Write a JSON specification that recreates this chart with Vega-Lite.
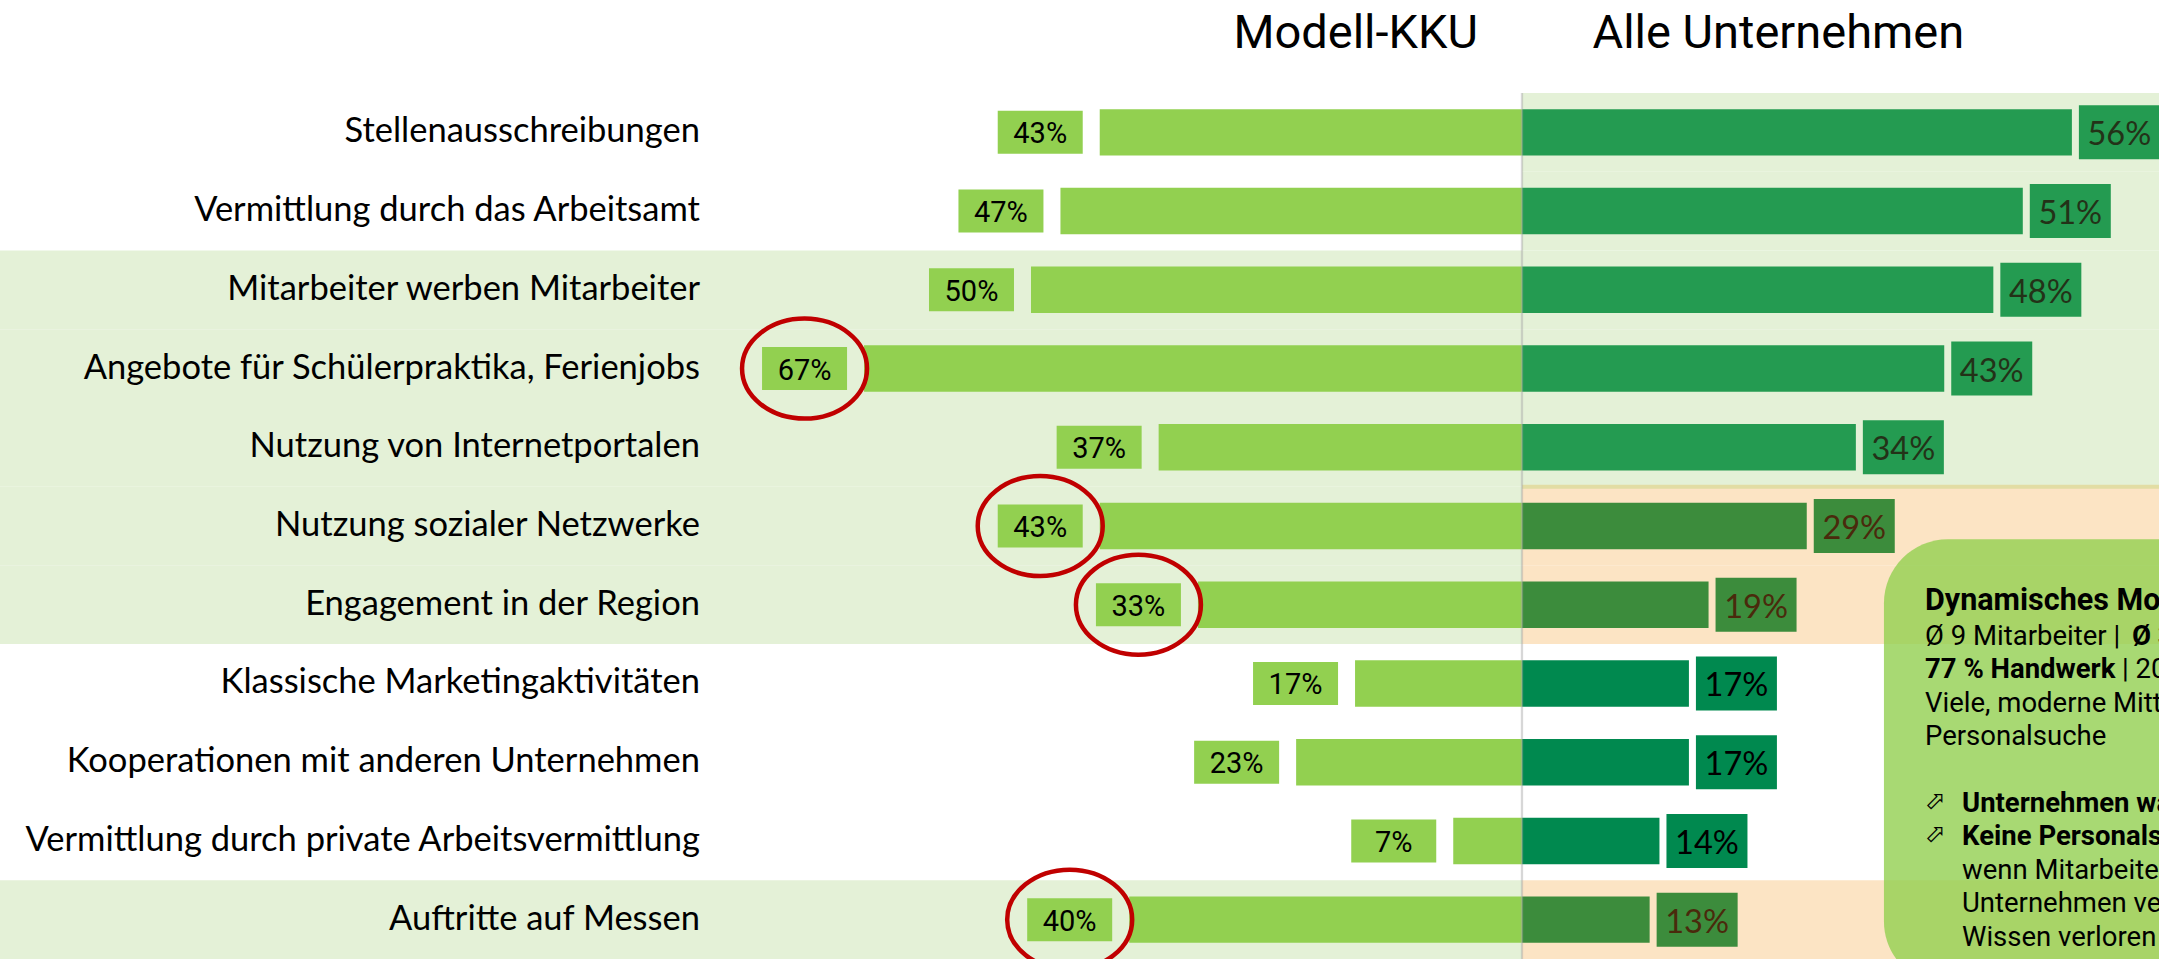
{
  "$schema": "https://vega.github.io/schema/vega-lite/v6.json",
  "width": 2159,
  "height": 866,
  "autosize": {"type": "none"},
  "padding": {"left": 0, "right": 0, "top": 93, "bottom": 0},
  "background": "#ffffff",
  "config": {"view": {"stroke": null}},
  "data": {"values": [
    {"Kategorie": "Stellenausschreibungen", "KKU": 0.43, "Alle": 0.56, "Hintergrund_KKU": "normal", "Bereich": "häufig", "Kreis": "nein"},
    {"Kategorie": "Vermittlung durch das Arbeitsamt", "KKU": 0.47, "Alle": 0.51, "Hintergrund_KKU": "normal", "Bereich": "häufig", "Kreis": "nein"},
    {"Kategorie": "Mitarbeiter werben Mitarbeiter", "KKU": 0.50, "Alle": 0.48, "Hintergrund_KKU": "hervorgehoben", "Bereich": "häufig", "Kreis": "nein"},
    {"Kategorie": "Angebote für Schülerpraktika, Ferienjobs", "KKU": 0.67, "Alle": 0.43, "Hintergrund_KKU": "hervorgehoben", "Bereich": "häufig", "Kreis": "ja"},
    {"Kategorie": "Nutzung von Internetportalen", "KKU": 0.37, "Alle": 0.34, "Hintergrund_KKU": "hervorgehoben", "Bereich": "häufig", "Kreis": "nein"},
    {"Kategorie": "Nutzung sozialer Netzwerke", "KKU": 0.43, "Alle": 0.29, "Hintergrund_KKU": "hervorgehoben", "Bereich": "KKU stärker", "Kreis": "ja"},
    {"Kategorie": "Engagement in der Region", "KKU": 0.33, "Alle": 0.19, "Hintergrund_KKU": "hervorgehoben", "Bereich": "KKU stärker", "Kreis": "ja"},
    {"Kategorie": "Klassische Marketingaktivitäten", "KKU": 0.17, "Alle": 0.17, "Hintergrund_KKU": "normal", "Bereich": "selten", "Kreis": "nein"},
    {"Kategorie": "Kooperationen mit anderen Unternehmen", "KKU": 0.23, "Alle": 0.17, "Hintergrund_KKU": "normal", "Bereich": "selten", "Kreis": "nein"},
    {"Kategorie": "Vermittlung durch private Arbeitsvermittlung", "KKU": 0.07, "Alle": 0.14, "Hintergrund_KKU": "normal", "Bereich": "selten", "Kreis": "nein"},
    {"Kategorie": "Auftritte auf Messen", "KKU": 0.40, "Alle": 0.13, "Hintergrund_KKU": "hervorgehoben", "Bereich": "KKU stärker", "Kreis": "ja"}
  ]},
  "layer": [
    {
      "mark": {"type": "rect"},
      "encoding": {
        "y": {"field": "Kategorie", "type": "nominal", "scale": {"type": "band", "domain": ["Stellenausschreibungen", "Vermittlung durch das Arbeitsamt", "Mitarbeiter werben Mitarbeiter", "Angebote für Schülerpraktika, Ferienjobs", "Nutzung von Internetportalen", "Nutzung sozialer Netzwerke", "Engagement in der Region", "Klassische Marketingaktivitäten", "Kooperationen mit anderen Unternehmen", "Vermittlung durch private Arbeitsvermittlung", "Auftritte auf Messen"], "paddingInner": 0, "paddingOuter": 0}, "axis": null},
        "x": {"datum": 0, "type": "quantitative", "scale": {"domain": [-0.6487, 1.5499], "reverse": true, "nice": false, "zero": false}, "axis": null},
        "x2": {"datum": 1.5499},
        "color": {"field": "Hintergrund_KKU", "type": "nominal", "scale": {"domain": ["normal", "hervorgehoben"], "range": ["#ffffff", "#e4f1d7"]}, "legend": null}
      }
    },
    {
      "mark": {"type": "rect"},
      "encoding": {
        "y": {"field": "Kategorie", "type": "nominal", "axis": null},
        "x": {"datum": 0, "type": "quantitative", "scale": {"domain": [-1.5499, 0.6487], "nice": false, "zero": false}, "axis": null},
        "x2": {"datum": 0.6487},
        "color": {"field": "Bereich", "type": "nominal", "scale": {"domain": ["häufig", "KKU stärker", "selten"], "range": ["#e4f1d7", "#fce4c4", "#ffffff"]}, "legend": null}
      }
    },
    {
      "data": {"values": [{}]},
      "mark": {"type": "rule", "color": "#e2dda4", "strokeWidth": 4},
      "encoding": {
        "y": {"datum": "Nutzung sozialer Netzwerke", "type": "nominal", "bandPosition": 0, "axis": null},
        "x": {"datum": 0, "type": "quantitative", "scale": {"domain": [-1.5499, 0.6487], "nice": false, "zero": false}, "axis": null},
        "x2": {"datum": 0.6487}
      }
    },
    {
      "mark": {"type": "text", "font": "Lato", "fontSize": 34.5, "color": "#000000", "align": "right", "baseline": "middle"},
      "encoding": {
        "y": {"field": "Kategorie", "type": "nominal", "axis": null},
        "x": {"datum": 0.8371, "type": "quantitative", "scale": {"domain": [-0.6487, 1.5499], "reverse": true, "nice": false, "zero": false}, "axis": null},
        "text": {"field": "Kategorie", "type": "nominal"}
      }
    },
    {
      "mark": {"type": "bar", "height": {"band": 0.59}, "color": "#92d050"},
      "encoding": {
        "y": {"field": "Kategorie", "type": "nominal", "axis": null},
        "x": {"field": "KKU", "type": "quantitative", "scale": {"domain": [-0.6487, 1.5499], "reverse": true, "nice": false, "zero": false}, "axis": null},
        "x2": {"datum": 0}
      }
    },
    {
      "mark": {"type": "bar", "height": {"band": 0.59}},
      "encoding": {
        "y": {"field": "Kategorie", "type": "nominal", "axis": null},
        "x": {"field": "Alle", "type": "quantitative", "scale": {"domain": [-1.5499, 0.6487], "nice": false, "zero": false}, "axis": null},
        "x2": {"datum": 0},
        "color": {"field": "Bereich", "type": "nominal", "scale": {"domain": ["häufig", "KKU stärker", "selten"], "range": ["#249b51", "#3c8c3c", "#00894f"]}, "legend": null}
      }
    },
    {
      "data": {"values": [{}]},
      "mark": {"type": "rule", "color": "#a6a6a6", "opacity": 0.45, "strokeWidth": 2.3},
      "encoding": {
        "x": {"datum": 0, "type": "quantitative", "scale": {"domain": [-1.5499, 0.6487], "nice": false, "zero": false}, "axis": null}
      }
    },
    {
      "mark": {"type": "point", "shape": "M-2.04,-0.43H-0.34V0.43H-2.04Z", "size": 10000, "filled": true, "opacity": 1, "strokeWidth": 0, "color": "#92d050"},
      "encoding": {
        "y": {"field": "Kategorie", "type": "nominal", "axis": null},
        "x": {"field": "KKU", "type": "quantitative", "scale": {"domain": [-0.6487, 1.5499], "reverse": true, "nice": false, "zero": false}, "axis": null}
      }
    },
    {
      "mark": {"type": "point", "shape": "M0.14,-0.54H1.76V0.54H0.14Z", "size": 10000, "filled": true, "opacity": 1, "strokeWidth": 0},
      "encoding": {
        "y": {"field": "Kategorie", "type": "nominal", "axis": null},
        "x": {"field": "Alle", "type": "quantitative", "scale": {"domain": [-1.5499, 0.6487], "nice": false, "zero": false}, "axis": null},
        "color": {"field": "Bereich", "type": "nominal", "scale": {"domain": ["häufig", "KKU stärker", "selten"], "range": ["#249b51", "#3c8c3c", "#00894f"]}, "legend": null}
      }
    },
    {
      "mark": {"type": "text", "font": "Roboto", "fontSize": 29, "color": "#000000", "align": "center", "baseline": "middle", "dx": -59.5, "dy": 2},
      "encoding": {
        "y": {"field": "Kategorie", "type": "nominal", "axis": null},
        "x": {"field": "KKU", "type": "quantitative", "scale": {"domain": [-0.6487, 1.5499], "reverse": true, "nice": false, "zero": false}, "axis": null},
        "text": {"field": "KKU", "type": "quantitative", "format": ".0%"}
      }
    },
    {
      "mark": {"type": "text", "font": "Lato", "fontSize": 32.5, "align": "center", "baseline": "middle", "dx": 47.5, "dy": 3},
      "encoding": {
        "y": {"field": "Kategorie", "type": "nominal", "axis": null},
        "x": {"field": "Alle", "type": "quantitative", "scale": {"domain": [-1.5499, 0.6487], "nice": false, "zero": false}, "axis": null},
        "text": {"field": "Alle", "type": "quantitative", "format": ".0%"},
        "color": {"field": "Bereich", "type": "nominal", "scale": {"domain": ["häufig", "KKU stärker", "selten"], "range": ["#233218", "#4a2a0c", "#000000"]}, "legend": null}
      }
    },
    {
      "transform": [{"filter": {"field": "Kreis", "equal": "ja"}}],
      "mark": {"type": "point", "shape": "M-2.44,0C-2.44,-0.552,-1.88,-1,-1.19,-1C-0.5,-1,0.06,-0.552,0.06,0C0.06,0.552,-0.5,1,-1.19,1C-1.88,1,-2.44,0.552,-2.44,0Z", "size": 10000, "filled": false, "opacity": 1, "color": "#c00000", "strokeWidth": 4.5},
      "encoding": {
        "y": {"field": "Kategorie", "type": "nominal", "axis": null},
        "x": {"field": "KKU", "type": "quantitative", "scale": {"domain": [-0.6487, 1.5499], "reverse": true, "nice": false, "zero": false}, "axis": null}
      }
    },
    {
      "data": {"values": [{}]},
      "mark": {"type": "bar", "height": 446, "cornerRadius": 64, "color": "#92d050", "opacity": 0.8},
      "encoding": {
        "y": {"datum": "Kooperationen mit anderen Unternehmen", "type": "nominal", "axis": null},
        "x": {"datum": 0.3686, "type": "quantitative", "scale": {"domain": [-1.5499, 0.6487], "nice": false, "zero": false}, "axis": null},
        "x2": {"datum": 0.85}
      }
    },
    {
      "data": {"values": [{}]},
      "mark": {"type": "text", "font": "Roboto", "fontSize": 30.5, "fontWeight": "bold", "color": "#000000", "align": "left", "baseline": "alphabetic", "dy": 5.3},
      "encoding": {
        "y": {"datum": "Engagement in der Region", "type": "nominal", "axis": null},
        "x": {"datum": 0.4104, "type": "quantitative", "scale": {"domain": [-1.5499, 0.6487], "nice": false, "zero": false}, "axis": null},
        "text": {"value": "Dynamisches Modell-KKU"}
      }
    },
    {
      "data": {"values": [{}]},
      "mark": {"type": "text", "font": "Roboto", "fontSize": 27.5, "color": "#000000", "align": "left", "baseline": "alphabetic", "dy": 40.3},
      "encoding": {
        "y": {"datum": "Engagement in der Region", "type": "nominal", "axis": null},
        "x": {"datum": 0.4104, "type": "quantitative", "scale": {"domain": [-1.5499, 0.6487], "nice": false, "zero": false}, "axis": null},
        "text": {"value": "Ø 9 Mitarbeiter |"}
      }
    },
    {
      "data": {"values": [{}]},
      "mark": {"type": "text", "font": "Roboto", "fontSize": 27.5, "color": "#000000", "align": "left", "baseline": "alphabetic", "dy": 107.1, "lineHeight": 33.4},
      "encoding": {
        "y": {"datum": "Engagement in der Region", "type": "nominal", "axis": null},
        "x": {"datum": 0.4104, "type": "quantitative", "scale": {"domain": [-1.5499, 0.6487], "nice": false, "zero": false}, "axis": null},
        "text": {"value": ["Viele, moderne Mittel der", "Personalsuche"]}
      }
    },
    {
      "data": {"values": [{}]},
      "mark": {"type": "text", "font": "Roboto", "fontSize": 27.5, "fontWeight": "bold", "color": "#000000", "align": "left", "baseline": "alphabetic", "dy": 40.3},
      "encoding": {
        "y": {"datum": "Engagement in der Region", "type": "nominal", "axis": null},
        "x": {"datum": 0.6212, "type": "quantitative", "scale": {"domain": [-1.5499, 0.6487], "nice": false, "zero": false}, "axis": null},
        "text": {"value": "Ø 35 Jahre"}
      }
    },
    {
      "data": {"values": [{}]},
      "mark": {"type": "text", "font": "Roboto", "fontSize": 27.5, "fontWeight": "bold", "color": "#000000", "align": "left", "baseline": "alphabetic", "dy": 73.7},
      "encoding": {
        "y": {"datum": "Engagement in der Region", "type": "nominal", "axis": null},
        "x": {"datum": 0.4104, "type": "quantitative", "scale": {"domain": [-1.5499, 0.6487], "nice": false, "zero": false}, "axis": null},
        "text": {"value": "77 % Handwerk"}
      }
    },
    {
      "data": {"values": [{}]},
      "mark": {"type": "text", "font": "Roboto", "fontSize": 27.5, "color": "#000000", "align": "left", "baseline": "alphabetic", "dy": 73.7},
      "encoding": {
        "y": {"datum": "Engagement in der Region", "type": "nominal", "axis": null},
        "x": {"datum": 0.611, "type": "quantitative", "scale": {"domain": [-1.5499, 0.6487], "nice": false, "zero": false}, "axis": null},
        "text": {"value": "| 20 % Dienstleistung"}
      }
    },
    {
      "data": {"values": [{}]},
      "mark": {"type": "text", "font": "DejaVu Sans", "fontSize": 25, "color": "#000000", "align": "left", "baseline": "alphabetic", "dy": 204, "lineHeight": 33.4},
      "encoding": {
        "y": {"datum": "Engagement in der Region", "type": "nominal", "axis": null},
        "x": {"datum": 0.4104, "type": "quantitative", "scale": {"domain": [-1.5499, 0.6487], "nice": false, "zero": false}, "axis": null},
        "text": {"value": ["⬀", "⬀"]}
      }
    },
    {
      "data": {"values": [{}]},
      "mark": {"type": "text", "font": "Roboto", "fontSize": 27.5, "fontWeight": "bold", "color": "#000000", "align": "left", "baseline": "alphabetic", "dy": 207.3, "lineHeight": 33.4},
      "encoding": {
        "y": {"datum": "Engagement in der Region", "type": "nominal", "axis": null},
        "x": {"datum": 0.4481, "type": "quantitative", "scale": {"domain": [-1.5499, 0.6487], "nice": false, "zero": false}, "axis": null},
        "text": {"value": ["Unternehmen wachsen", "Keine Personalsuche nötig,"]}
      }
    },
    {
      "data": {"values": [{}]},
      "mark": {"type": "text", "font": "Roboto", "fontSize": 27.5, "color": "#000000", "align": "left", "baseline": "alphabetic", "dy": 274.1, "lineHeight": 33.4},
      "encoding": {
        "y": {"datum": "Engagement in der Region", "type": "nominal", "axis": null},
        "x": {"datum": 0.4481, "type": "quantitative", "scale": {"domain": [-1.5499, 0.6487], "nice": false, "zero": false}, "axis": null},
        "text": {"value": ["wenn Mitarbeiter das", "Unternehmen verlassen,", "Wissen verloren geht"]}
      }
    },
    {
      "data": {"values": [{}]},
      "mark": {"type": "text", "font": "Roboto", "fontSize": 47, "color": "#000000", "align": "right", "baseline": "alphabetic", "dy": -84.4},
      "encoding": {
        "y": {"datum": "Stellenausschreibungen", "type": "nominal", "axis": null},
        "x": {"datum": -0.0448, "type": "quantitative", "scale": {"domain": [-1.5499, 0.6487], "nice": false, "zero": false}, "axis": null},
        "text": {"value": "Modell-KKU"}
      }
    },
    {
      "data": {"values": [{}]},
      "mark": {"type": "text", "font": "Roboto", "fontSize": 47, "color": "#000000", "align": "left", "baseline": "alphabetic", "dy": -84.4},
      "encoding": {
        "y": {"datum": "Stellenausschreibungen", "type": "nominal", "axis": null},
        "x": {"datum": 0.0718, "type": "quantitative", "scale": {"domain": [-1.5499, 0.6487], "nice": false, "zero": false}, "axis": null},
        "text": {"value": "Alle Unternehmen"}
      }
    }
  ],
  "resolve": {"scale": {"x": "independent", "color": "independent"}}
}
